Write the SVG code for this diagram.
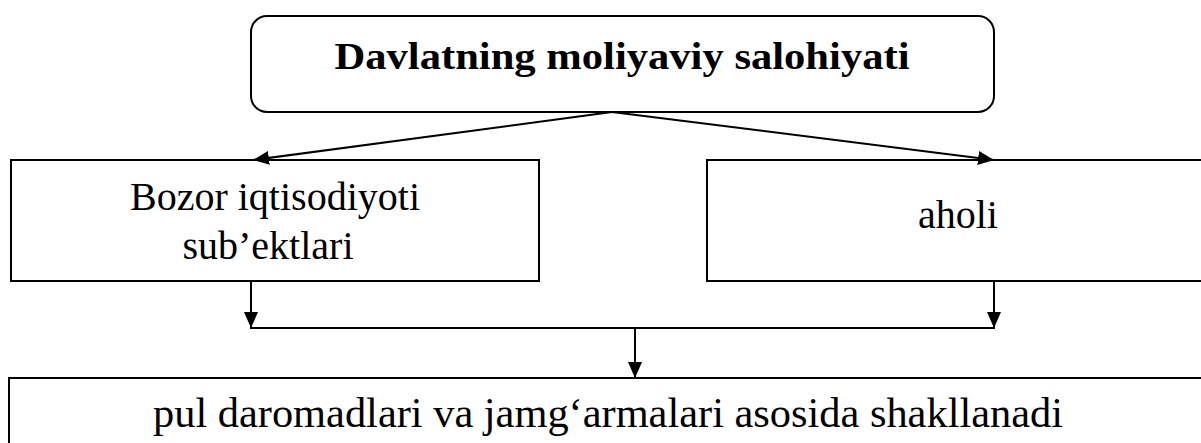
<svg xmlns="http://www.w3.org/2000/svg" width="1201" height="443" viewBox="0 0 1201 443">
<style>
.box{fill:#fff;stroke:#000;stroke-width:2}
.t{font-family:"Liberation Serif","Times New Roman",serif;fill:#000;text-anchor:middle}
.c{stroke:#000;stroke-width:2;fill:none}
</style>
<defs>
<marker id="ah" markerUnits="userSpaceOnUse" markerWidth="18" markerHeight="16" refX="16" refY="7" orient="auto">
<path d="M0,0 L16,7 L0,14 Z" fill="#000"/>
</marker>
</defs>
<rect width="1201" height="443" fill="#fff"/>
<g id="node-top">
<rect class="box" x="251" y="16" width="743" height="96" rx="16" ry="16"/>
<text class="t" x="622" y="69" font-size="38" font-weight="bold" textLength="575" lengthAdjust="spacingAndGlyphs">Davlatning moliyaviy salohiyati</text>
</g>
<g id="node-left">
<rect class="box" x="11" y="160" width="528" height="121"/>
<text class="t" x="275" y="210" font-size="40">Bozor iqtisodiyoti</text>
<text class="t" x="268" y="259" font-size="40">sub’ektlari</text>
</g>
<g id="node-right">
<rect class="box" x="707" y="160" width="504" height="121"/>
<text class="t" x="958" y="228" font-size="40">aholi</text>
</g>
<g id="node-bottom">
<rect class="box" x="9" y="378" width="1202" height="80"/>
<text class="t" x="608" y="427" font-size="43" textLength="910" lengthAdjust="spacingAndGlyphs">pul daromadlari va jamg‘armalari asosida shakllanadi</text>
</g>
<g id="connectors">
<line class="c" x1="612" y1="112" x2="253" y2="160" marker-end="url(#ah)"/>
<line class="c" x1="612" y1="112" x2="994" y2="160" marker-end="url(#ah)"/>
<line class="c" x1="251" y1="281" x2="251" y2="328" marker-end="url(#ah)"/>
<line class="c" x1="994" y1="281" x2="994" y2="328" marker-end="url(#ah)"/>
<line class="c" x1="250" y1="328" x2="995" y2="328"/>
<line class="c" x1="635" y1="328" x2="635" y2="378" marker-end="url(#ah)"/>
</g>
</svg>
